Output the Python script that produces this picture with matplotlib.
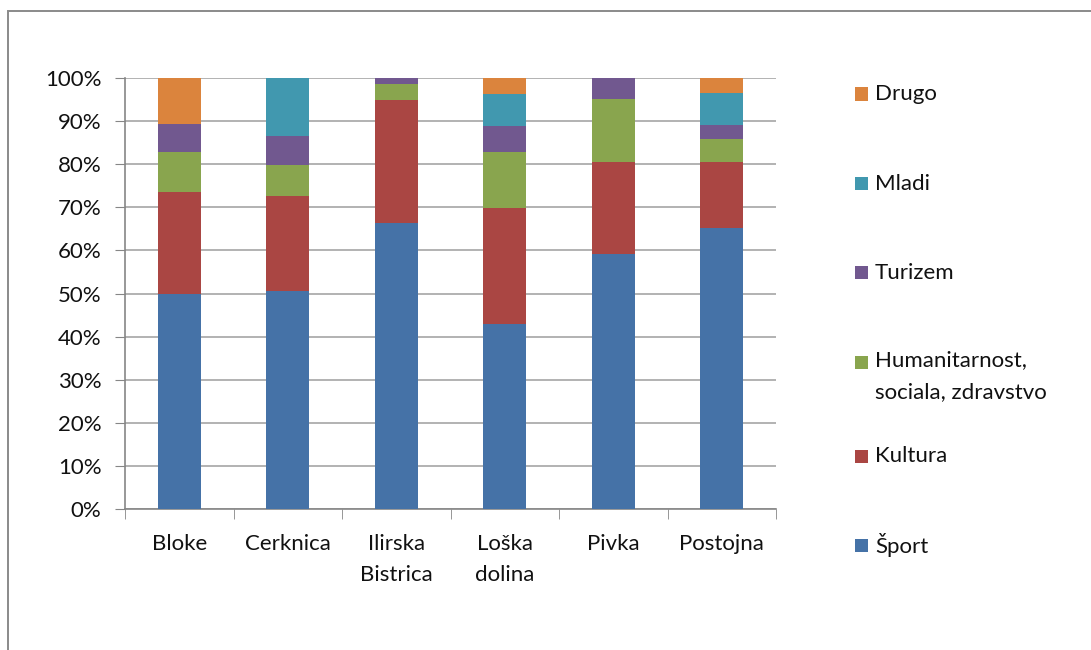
import numpy as np
import matplotlib
matplotlib.use('Agg')
import matplotlib.pyplot as plt
from matplotlib.patches import Rectangle

plt.rcParams['font.family'] = ['Lato', 'DejaVu Sans']

# obcine (x kategorije)
kraji = ['Bloke', 'Cerknica', 'Ilirska\nBistrica', 'Loška\ndolina', 'Pivka', 'Postojna']

# delezi po podrocjih (%), od spodaj navzgor
sport     = [50.0, 50.6, 66.3, 42.9, 59.2, 65.1]
kultura   = [23.5, 22.0, 28.6, 26.9, 21.4, 15.5]
humanit   = [9.4, 7.1, 3.7, 13.1, 14.5, 5.2]
turizem   = [6.4, 6.9, 1.4, 6.0, 4.9, 3.4]
mladi     = [0.0, 13.4, 0.0, 7.5, 0.0, 7.4]
drugo     = [10.7, 0.0, 0.0, 3.6, 0.0, 3.4]

imena = ['Šport', 'Kultura', 'Humanitarnost,\nsociala, zdravstvo', 'Turizem', 'Mladi', 'Drugo']
barve = ['#4572A7', '#AA4643', '#89A54E', '#71588F', '#4198AF', '#DB843D']

W, H = 1091, 650
fig = plt.figure(figsize=(W / 100, H / 100), dpi=100)

# okvir grafa
fig.patches.append(Rectangle((8 / W, -0.2), 1.2, 1.2 - 11 / H,
                             transform=fig.transFigure, fill=False,
                             edgecolor='#8a8a8a', lw=1.4, zorder=0))

ax = fig.add_axes([125 / W, (H - 509) / H, (776 - 125) / W, (509 - 78) / H])

series = [sport, kultura, humanit, turizem, mladi, drugo]
x = np.arange(len(kraji))
bottom = np.zeros(len(kraji))
for vals, name, col in zip(series, imena, barve):
    vals = np.array(vals)
    ax.bar(x, vals, 0.4, bottom=bottom, color=col, label=name, zorder=3, lw=0)
    bottom += vals

fs = 16
ax.set_xlim(-0.5, len(kraji) - 0.5)
ax.set_ylim(0, 100)
ax.set_yticks(np.arange(0, 101, 10))
ax.set_yticklabels(['%d%%' % v for v in range(0, 101, 10)])
ax.yaxis.grid(True, color='#a6a6a6', lw=1.2, zorder=0)
ax.set_xticks(x)
ax.set_xticklabels(kraji, linespacing=1.68)
ax.set_xticks(np.arange(-0.5, len(kraji), 1.0), minor=True)
ax.tick_params(axis='x', which='major', length=0, pad=18, labelsize=fs, colors='#111111')
ax.tick_params(axis='x', which='minor', length=7, color='#868686', direction='out')
ax.tick_params(axis='y', length=7, color='#868686', direction='out', pad=10, labelsize=fs,
               labelcolor='#111111')
for s in ['top', 'right']:
    ax.spines[s].set_visible(False)
for s in ['left', 'bottom']:
    ax.spines[s].set_color('#868686')
    ax.spines[s].set_linewidth(1.2)

# legenda (Excel razmik, rocno)
leg_y = [545, 456, 362, 273, 184, 94]   # pixel y prve vrstice, od spodaj navzgor
for name, col, py in zip(imena, barve, leg_y):
    fy = 1 - py / H
    fig.patches.append(Rectangle((855 / W, fy - 6.5 / H), 13 / W, 13 / H,
                                 transform=fig.transFigure, color=col, lw=0))
    if '\n' in name:
        fig.text(875 / W, fy + 12 / H, name, fontsize=fs, va='top', ha='left',
                 linespacing=1.75, color='#111111')
    else:
        fig.text(875 / W, fy, name, fontsize=fs, va='center', ha='left', color='#111111')

fig.savefig('out.png', dpi=100)
